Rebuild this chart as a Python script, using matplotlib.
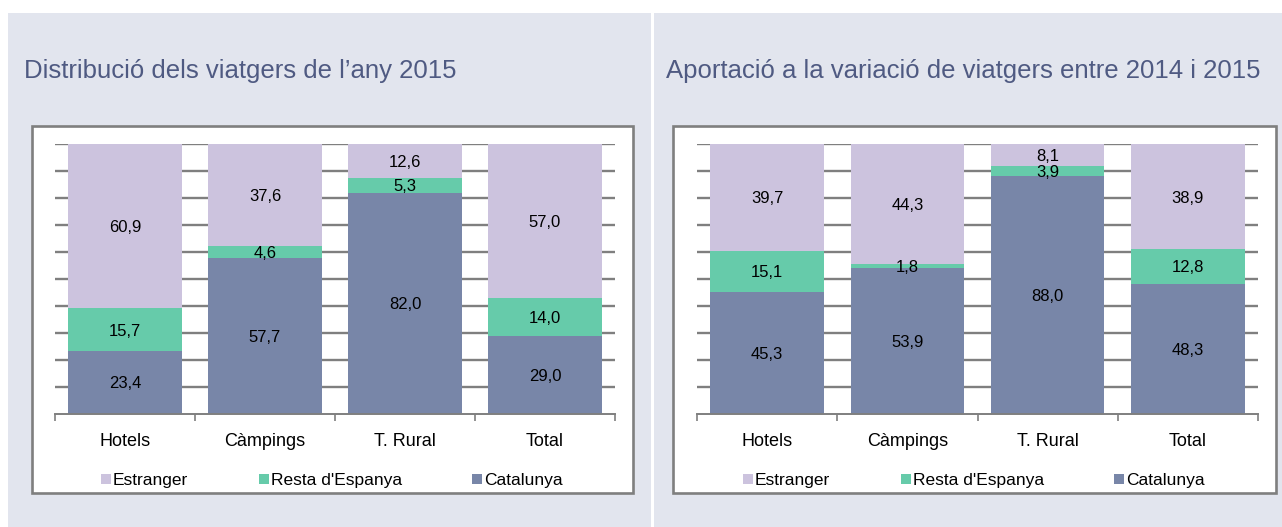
import matplotlib
matplotlib.use("Agg")
import matplotlib.pyplot as plt
from matplotlib.patches import Rectangle
import numpy as np

categories = ["Hotels", "Càmpings", "T. Rural", "Total"]
series_names = ["Estranger", "Resta d'Espanya", "Catalunya"]

left_title = "Distribució dels viatgers de l’any 2015"
left_catalunya = [23.4, 57.7, 82.0, 29.0]
left_resta = [15.7, 4.6, 5.3, 14.0]
left_estranger = [60.9, 37.6, 12.6, 57.0]

right_title = "Aportació a la variació de viatgers entre 2014 i 2015"
right_catalunya = [45.3, 53.9, 88.0, 48.3]
right_resta = [15.1, 1.8, 3.9, 12.8]
right_estranger = [39.7, 44.3, 8.1, 38.9]

C_EST = "#ccc3de"
C_RES = "#66cbaa"
C_CAT = "#7886a8"
BG = "#e2e5ee"
TITLE_C = "#4f5a82"
GRID_C = "#7f7f7f"

FONT = ["Liberation Sans", "DejaVu Sans"]
plt.rcParams["font.family"] = FONT

W, H = 1282, 527
fig = plt.figure(figsize=(W / 100, H / 100), dpi=100)
fig.patch.set_facecolor("white")


def px_rect(x0, y0, x1, y1):
    return [x0 / W, 1 - y1 / H, (x1 - x0) / W, (y1 - y0) / H]


def fig_rect(x0, y0, x1, y1, **kw):
    l, b, w, h = px_rect(x0, y0, x1, y1)
    fig.patches.append(Rectangle((l, b), w, h, transform=fig.transFigure, **kw))


fig_rect(8, 13, 651, 527, facecolor=BG, edgecolor="none", zorder=0)
fig_rect(654, 13, 1282, 527, facecolor=BG, edgecolor="none", zorder=0)
fig_rect(32, 126, 633, 493, facecolor="white", edgecolor=GRID_C, linewidth=1.9, zorder=0.5)
fig_rect(673, 126, 1276, 493, facecolor="white", edgecolor=GRID_C, linewidth=1.9, zorder=0.5)


def draw(ax_px, title, title_px, title_size, cat, res, est, legend_px):
    ax = fig.add_axes(px_rect(*ax_px))
    ax.set_zorder(5)
    ax.set_facecolor("none")
    x = np.arange(len(categories))
    width = 0.81
    ax.set_xlim(-0.5, len(categories) - 0.5)
    ax.set_ylim(0, 100)
    for yv in range(10, 101, 10):
        ax.axhline(yv, color=GRID_C, linewidth=1.7, zorder=1)
    cat = np.array(cat)
    res = np.array(res)
    est = np.array(est)
    ax.bar(x, cat, width, color=C_CAT, zorder=2)
    ax.bar(x, res, width, bottom=cat, color=C_RES, zorder=2)
    ax.bar(x, est, width, bottom=cat + res, color=C_EST, zorder=2)
    for vals, bottoms in ((cat, np.zeros_like(cat)), (res, cat), (est, cat + res)):
        for i, (v, b0) in enumerate(zip(vals, bottoms)):
            ax.text(x[i], b0 + v / 2, f"{v:.1f}".replace(".", ","), ha="center",
                    va="center_baseline", fontsize=12, color="black", zorder=3)
    for s in ("left", "right", "top"):
        ax.spines[s].set_visible(False)
    ax.spines["bottom"].set_color(GRID_C)
    ax.spines["bottom"].set_linewidth(1.4)
    ax.set_yticks([])
    ax.set_xticks(np.arange(-0.5, len(categories), 1.0))
    ax.set_xticklabels([])
    ax.tick_params(axis="x", direction="out", length=5, width=1.2, color=GRID_C)
    for i, c in enumerate(categories):
        ax.text(x[i], -9.6, c, ha="center", va="center_baseline", fontsize=13, color="black",
                clip_on=False)
    tx, ty = title_px
    fig.text(tx / W, 1 - ty / H, title, ha="left", va="center_baseline", fontsize=title_size,
             color=TITLE_C, zorder=6)
    items = [("Estranger", C_EST), ("Resta d'Espanya", C_RES), ("Catalunya", C_CAT)]
    for (name, col), lx in zip(items, legend_px):
        ly = 479
        fig_rect(lx, ly - 5, lx + 10, ly + 5, facecolor=col, edgecolor="none", zorder=3)
        fig.text((lx + 12) / W, 1 - ly / H, name, ha="left", va="center_baseline",
                 fontsize=12.5, color="black", zorder=6)
    return ax


draw((55, 144, 615, 414), left_title, (24, 69), 18.5, left_catalunya, left_resta, left_estranger,
     [101, 259, 472])
draw((697, 144, 1258, 414), right_title, (666, 69), 18.5, right_catalunya, right_resta,
     right_estranger, [743, 901, 1114])

fig.savefig("out.png", dpi=100, facecolor=fig.get_facecolor())
